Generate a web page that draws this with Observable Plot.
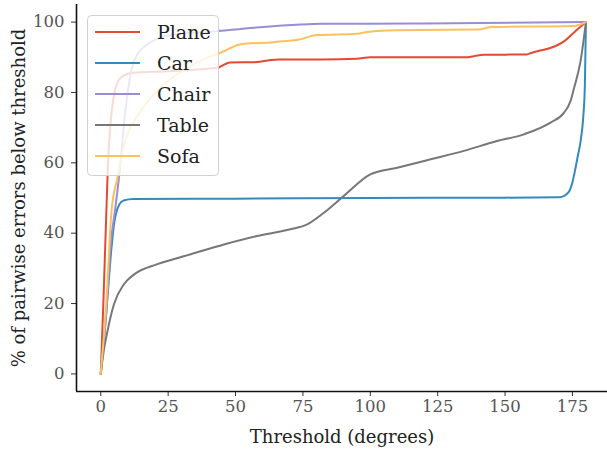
<!DOCTYPE html>
<html>
<head>
<meta charset="utf-8">
<script src="https://cdn.jsdelivr.net/npm/d3@7"></script>
<script src="https://cdn.jsdelivr.net/npm/@observablehq/plot@0.6"></script>
<style>
  html, body { margin: 0; padding: 0; background: #fff; }
  #chart { width: 607px; height: 449px; }
  #chart svg, #chart svg text { font-family: "DejaVu Serif", serif !important; }
</style>
</head>
<body>
<div id="chart"></div>
<script>
const categories = ["Plane", "Car", "Chair", "Table", "Sofa"];
const colors = ["#E24A33", "#348ABD", "#988ED5", "#777777", "#FBC15E"];

const planeX = [0, 1, 2.2, 2.7, 3.5, 5, 7.4, 12, 25, 37, 43.3, 46, 48, 57, 62, 66, 82, 95, 100, 136, 139, 142, 158, 160, 163, 167, 172, 175.5, 180];
const planeY = [0, 21, 49, 60, 70, 79.5, 84.2, 85.6, 86, 86.6, 87, 88, 88.5, 88.6, 89.1, 89.4, 89.4, 89.6, 90, 90, 90.4, 90.7, 90.8, 91.3, 91.9, 92.7, 94.6, 97, 100];

const carX = [0, 2, 4, 5, 6, 7, 8.5, 12, 50, 100, 150, 170, 172, 173, 174, 175, 176, 177, 178, 179, 179.6, 180];
const carY = [0, 17, 36, 43, 46.5, 48.3, 49.3, 49.7, 49.8, 50, 50.1, 50.2, 50.6, 51.2, 52.2, 54.5, 58, 62, 66, 73, 82, 100];

const chairX = [0, 2, 3.7, 5.6, 7.4, 8.5, 9.9, 12.4, 17.3, 27, 40, 57, 74, 82, 120, 180];
const chairY = [0, 17, 36.9, 48.3, 60.5, 70, 79.5, 89, 93.7, 96.5, 97.2, 98.4, 99.3, 99.5, 99.6, 100];

const tableX = [0, 1, 2.5, 4.9, 8.6, 12.4, 21, 33.4, 45.7, 58, 70.4, 76.6, 82.8, 90.2, 100, 110, 122.4, 134.7, 147, 157, 167, 171.8, 174.3, 175.5, 178, 180];
const tableY = [0, 6, 12.2, 19.8, 25.5, 28.3, 31.2, 34, 36.8, 39.2, 41.1, 42.5, 45.8, 50.6, 56.7, 58.6, 61, 63.4, 66.2, 68.1, 71.5, 74.2, 77.6, 81, 88.9, 100];

const sofaX = [0, 2, 4, 6.2, 8, 9.9, 14.8, 22, 30, 39.5, 44.5, 52, 64, 74, 80, 95, 99, 110, 140, 145, 175.5, 180];
const sofaY = [0, 19.6, 46.3, 55.8, 63, 68, 74.7, 81.3, 86, 89.9, 91.3, 93.7, 94.3, 95.1, 96.3, 96.7, 97.2, 97.7, 97.9, 98.6, 98.9, 100];

const xTicks = [0, 25, 50, 75, 100, 125, 150, 175];
const yTicks = [0, 20, 40, 60, 80, 100];

const seriesX = [planeX, carX, chairX, tableX, sofaX];
const seriesY = [planeY, carY, chairY, tableY, sofaY];
const rows = [];
categories.forEach((c, i) => {
  seriesX[i].forEach((x, j) => rows.push({cat: c, x, y: seriesY[i][j]}));
});

const FONT = '"DejaVu Serif", serif';

const chart = Plot.plot({
  width: 607,
  height: 449,
  marginLeft: 76,
  marginRight: 0,
  marginTop: 4,
  marginBottom: 58,
  style: {background: "#fff", overflow: "visible"},
  x: {domain: [-9, 188], ticks: xTicks},
  y: {domain: [-5, 105], ticks: yTicks},
  color: {domain: categories, range: colors},
  marks: [
    Plot.axisX({ticks: xTicks, tickSize: 5, tickPadding: 4, fontSize: 16.5, color: "#555", stroke: "#333", label: null}),
    Plot.axisY({ticks: yTicks, tickSize: 5, tickPadding: 7, fontSize: 16.5, color: "#555", stroke: "#333", label: null}),
    Plot.ruleX([-9], {stroke: "#111", strokeWidth: 1.6}),
    Plot.ruleY([-5], {stroke: "#111", strokeWidth: 1.6}),
    Plot.line(rows, {x: "x", y: "y", z: "cat", stroke: "cat", strokeWidth: 2, curve: "monotone-x"}),
    Plot.text(["Threshold (degrees)"], {frameAnchor: "bottom", dy: 51, lineAnchor: "bottom", fontSize: 18, fill: "#222"}),
    Plot.text(["% of pairwise errors below threshold"], {frameAnchor: "left", textAnchor: "middle", dx: -57, rotate: -90, fontSize: 18, fill: "#222"})
  ]
});

const svg = d3.select(chart);
const lg = svg.append("g").attr("class", "legend");
lg.append("rect")
  .attr("x", 87.5).attr("y", 15.5).attr("width", 131).attr("height", 160)
  .attr("rx", 4).attr("fill", "#fff").attr("fill-opacity", 0.8)
  .attr("stroke", "#d0d0d0").attr("stroke-width", 1);
categories.forEach((c, i) => {
  const y = 32 + i * 31;
  lg.append("line").attr("x1", 95).attr("x2", 140).attr("y1", y).attr("y2", y)
    .attr("stroke", colors[i]).attr("stroke-width", 2);
  lg.append("text").attr("x", 157).attr("y", y).attr("dy", "0.35em")
    .attr("text-anchor", "start")
    .attr("font-family", FONT).attr("font-size", 19).attr("fill", "#222").text(c);
});

document.getElementById("chart").appendChild(chart);
</script>
</body>
</html>
